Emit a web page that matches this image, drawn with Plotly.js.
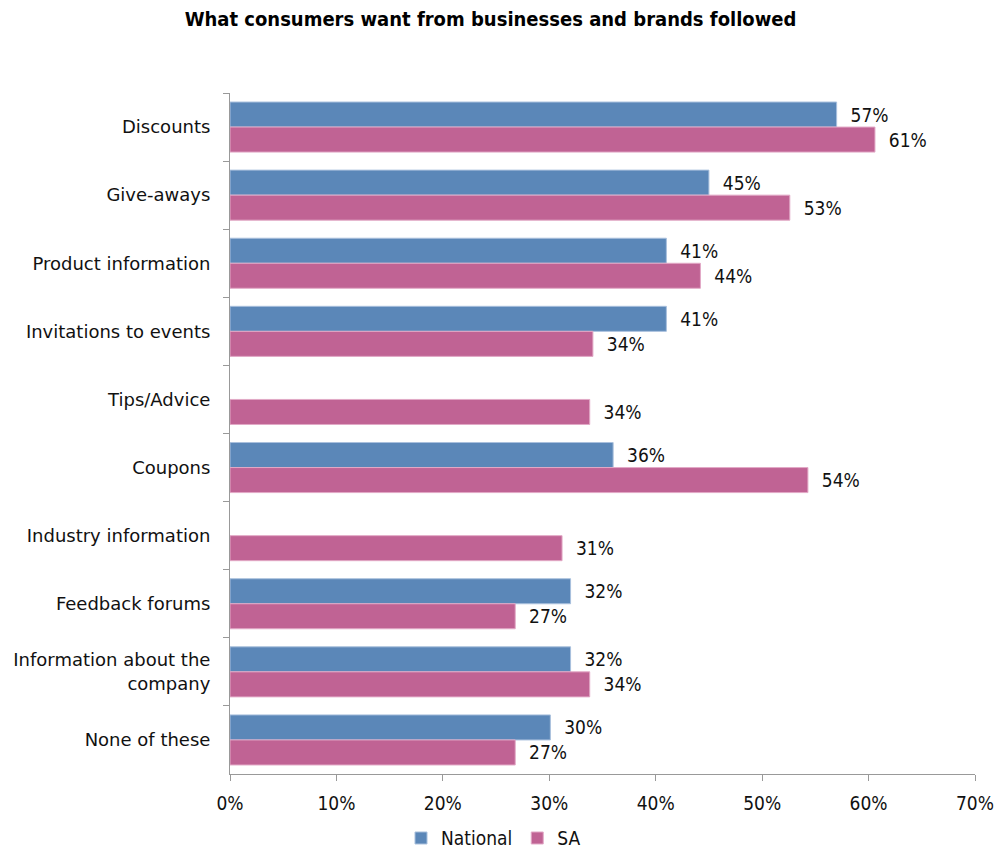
<!DOCTYPE html>
<html>
<head>
<meta charset="utf-8">
<script src="https://cdn.plot.ly/plotly-3.0.1.min.js"></script>
<style>html,body{margin:0;padding:0;background:#fff;}#chart{width:997px;height:857px;}</style>
</head>
<body>
<div id="chart"></div>
<script>
const categories = ["Discounts", "Give-aways", "Product information", "Invitations to events", "Tips/Advice", "Coupons", "Industry information", "Feedback forums", "Information about the<br>company", "None of these"];
const nationalValues = [57.0, 45.0, 41.0, 41.0, null, 36.0, null, 32.0, 32.0, 30.1];
const saValues = [60.6, 52.6, 44.2, 34.1, 33.8, 54.3, 31.2, 26.8, 33.8, 26.8];
const nationalLabels = ["57%", "45%", "41%", "41%", "", "36%", "", "32%", "32%", "30%"];
const saLabels = ["61%", "53%", "44%", "34%", "34%", "54%", "31%", "27%", "34%", "27%"];
const xTickVals = [0, 10, 20, 30, 40, 50, 60, 70];
const xTickText = ["0%", "10%", "20%", "30%", "40%", "50%", "60%", "70%"];

const condFont = "DejaVu Sans Condensed, Liberation Sans Narrow, DejaVu Sans, sans-serif";
const labelFont = {family: condFont, size: 19, color: "#111"};

const traces = [
  {type: "bar", orientation: "h", name: "National", y: categories, x: nationalValues,
   text: nationalLabels, texttemplate: "\u00a0\u00a0%{text}", textposition: "outside", cliponaxis: false, textfont: labelFont,
   marker: {color: "#5B87B8", line: {color: "#A9C0DD", width: 1}}, hoverinfo: "x+y"},
  {type: "bar", orientation: "h", name: "SA", y: categories, x: saValues,
   text: saLabels, texttemplate: "\u00a0\u00a0%{text}", textposition: "outside", cliponaxis: false, textfont: labelFont,
   marker: {color: "#C06394", line: {color: "#E2A9C6", width: 1}}, hoverinfo: "x+y"}
];

const layout = {
  width: 997, height: 857,
  margin: {l: 230, r: 22, t: 93, b: 83, autoexpand: false},
  paper_bgcolor: "#fff", plot_bgcolor: "#fff",
  title: {text: "<b>What consumers want from businesses and brands followed</b>", x: 0.492, xanchor: "center", y: 0.978, yanchor: "middle",
          font: {family: condFont, size: 20, color: "#000"}},
  barmode: "group", bargap: 0.265, bargroupgap: 0,
  showlegend: true,
  legend: {orientation: "h", x: 0.495, xanchor: "center", xref: "container", y: 0.022, yanchor: "middle", yref: "container",
           font: {family: condFont, size: 19, color: "#111"},
           itemwidth: 30, traceorder: "normal"},
  xaxis: {range: [0, 70], tickvals: xTickVals, ticktext: xTickText, showgrid: false, zeroline: false,
          showline: true, linecolor: "#999", linewidth: 1, ticks: "outside", ticklen: 6, tickcolor: "#999", ticklabelstandoff: 6,
          tickfont: {family: condFont, size: 19, color: "#111"}, fixedrange: true},
  yaxis: {autorange: "reversed", showgrid: false, zeroline: false, showline: true, linecolor: "#999", linewidth: 1,
          ticks: "outside", tickson: "boundaries", ticklen: 6, tickcolor: "#999", ticklabelstandoff: 15,
          tickfont: {family: "DejaVu Sans, sans-serif", size: 18, color: "#111"}, fixedrange: true}
};

Plotly.newPlot("chart", traces, layout, {displayModeBar: false, staticPlot: true});
</script>
</body>
</html>
